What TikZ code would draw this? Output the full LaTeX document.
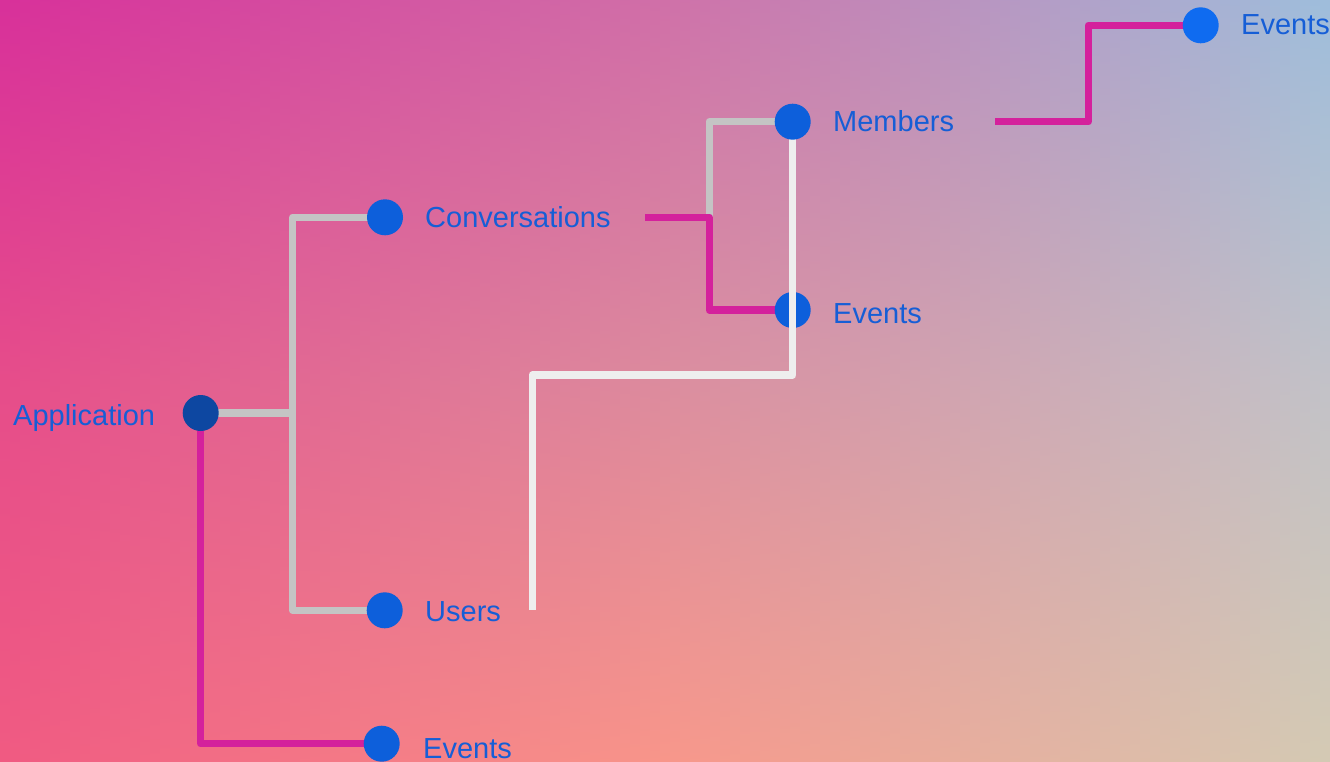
\documentclass[tikz,border=0pt]{standalone}
\usepackage{fontspec}
\setmainfont{Liberation Sans}
\definecolor{TL}{HTML}{D8309A}
\definecolor{TM}{HTML}{D070A8}
\definecolor{TR}{HTML}{9EBEDC}
\definecolor{ML}{HTML}{E64C8A}
\definecolor{MM}{HTML}{DC8C9E}
\definecolor{MR}{HTML}{C2C2C8}
\definecolor{BL}{HTML}{F05A82}
\definecolor{BM}{HTML}{F8968A}
\definecolor{BR}{HTML}{D4CAB4}
\definecolor{dotblue}{HTML}{0D5FDB}
\definecolor{dotdark}{HTML}{0D47A1}
\definecolor{dotbright}{HTML}{0F6BF0}
\definecolor{txtblue}{HTML}{165ED6}
\definecolor{lgrey}{HTML}{C4C4C4}
\definecolor{mag}{HTML}{D4219C}
\definecolor{wline}{HTML}{EEEEEE}
\pgfdeclarelayer{bg}
\pgfdeclarelayer{lines}
\pgfdeclarelayer{top}
\pgfsetlayers{bg,lines,main,top}
\tikzset{
  dot/.style={circle,fill=dotblue,minimum size=36pt,inner sep=0pt,draw=none},
  lbl/.style={font=\fontsize{29}{34}\selectfont,text=txtblue,inner sep=0pt,anchor=base west},
  greyline/.style={draw=lgrey,line width=7.5pt,line join=round},
  magline/.style={draw=mag,line width=7.5pt,line join=round},
  whiteline/.style={draw=wline,line width=7.5pt,line join=round}
}
\begin{document}
\begin{tikzpicture}[x=1pt,y=-1pt]
\useasboundingbox (0,0) rectangle (1330,762);
\begin{pgfonlayer}{bg}
\foreach \i in {0,...,132}{
  \pgfmathsetmacro\xc{\i*10+5}
  \pgfmathtruncatemacro\pa{min(100,round(\xc/6.65))}
  \pgfmathtruncatemacro\qa{100-max(0,round((\xc-665)/6.65))}
  \colorlet{ctop}{TM!\pa!TL!\qa!TR}
  \colorlet{cmid}{MM!\pa!ML!\qa!MR}
  \colorlet{cbot}{BM!\pa!BL!\qa!BR}
  \fill[top color=ctop,bottom color=cbot,middle color=cmid] (\i*10,0) rectangle (\i*10+10.6,762);
}
\end{pgfonlayer}
% dots
\node[dot,fill=dotdark] (app) at (200.7,413) {};
\node[dot] (conv) at (385,217.3) {};
\node[dot] (users) at (384.7,610.3) {};
\node[dot] (evb) at (381.7,743.7) {};
\node[dot] (evm) at (792.7,310) {};
\node[dot,fill=dotbright] (evt) at (1200.7,25.3) {};
\begin{pgfonlayer}{top}
\node[dot] (mem) at (792.7,121.7) {};
\end{pgfonlayer}
% labels
\node[lbl] (lapp) at (13,425) {Application};
\node[lbl] (lconv) at (425,227) {Conversations};
\node[lbl] (lusers) at (425,621) {Users};
\node[lbl] (levb) at (423,758) {Events};
\node[lbl] (lmem) at (833,132) {Members};
\node[lbl] (levm) at (833,323) {Events};
\node[lbl] (levt) at (1241,35) {Events};
% junction coordinates
\coordinate (gA) at (292.7,413);
\coordinate (c1) at (645,217.3);
\coordinate (c2) at (709.3,217.3);
\coordinate (w1) at (532.3,610);
\coordinate (w2) at (792.7,375);
\coordinate (m1) at (995,121.7);
\coordinate (m2) at (1088.3,121.7);
\begin{pgfonlayer}{lines}
\draw[greyline] (app.center) -- (gA);
\draw[greyline] (conv.center) -| (gA) |- (users.center);
\draw[greyline] (c2) |- (mem.center);
\draw[magline] (app.center) |- (evb.center);
\draw[magline] (c1) -- (c2) |- (evm.center);
\draw[magline] (m1) -- (m2) |- (evt.center);
\end{pgfonlayer}
\draw[whiteline] (w1) |- (w2) -- (mem.center);
\end{tikzpicture}
\end{document}
